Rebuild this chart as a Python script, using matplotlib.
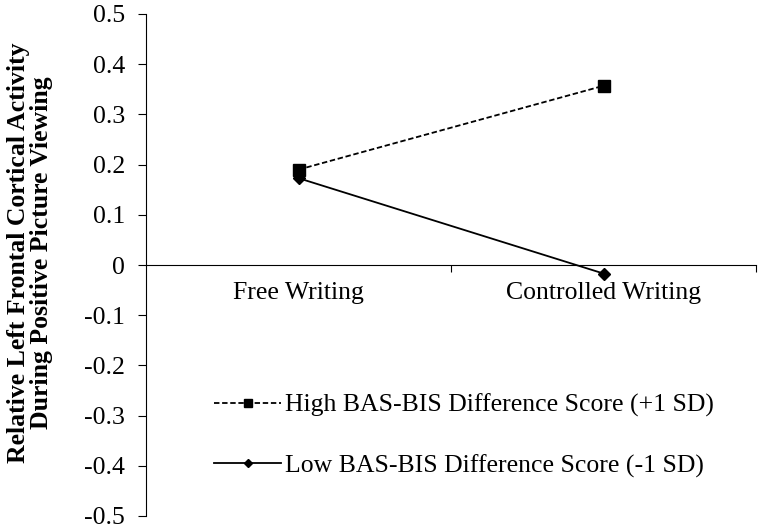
import matplotlib
matplotlib.use("Agg")
import matplotlib.pyplot as plt
from matplotlib.lines import Line2D

categories = ["Free Writing", "Controlled Writing"]
high_vals = [0.19, 0.357]
low_vals = [0.173, -0.017]
series_labels = ["High BAS-BIS Difference Score (+1 SD)",
                 "Low BAS-BIS Difference Score (-1 SD)"]
yticks = [0.5, 0.4, 0.3, 0.2, 0.1, 0, -0.1, -0.2, -0.3, -0.4, -0.5]
ytick_labels = ["0.5", "0.4", "0.3", "0.2", "0.1", "0", "-0.1", "-0.2", "-0.3", "-0.4", "-0.5"]
ylabel = "Relative Left Frontal Cortical Activity\nDuring Positive Picture Viewing"

plt.rcParams['font.family'] = ['Liberation Serif', 'DejaVu Serif']

fig = plt.figure(figsize=(7.6, 5.28), dpi=100)
ax = fig.add_axes([146/760, 12/528, 610/760, 502/528])

x = [0.5 + i for i in range(len(categories))]
ax.plot(x, high_vals, color='black', linestyle=(0, (3, 1.5)), linewidth=1.3,
        marker='s', markersize=8)
ax.plot(x, low_vals, color='black', linestyle='-', linewidth=1.3,
        marker='D', markersize=6)

ax.set_xlim(0, 2)
ax.set_ylim(-0.5, 0.5)
ax.set_yticks(yticks)
ax.set_yticklabels(ytick_labels)
ax.set_xticks(x)
ax.set_xticklabels(categories)
ax.set_xticks([1, 2], minor=True)
ax.tick_params(axis='x', which='major', length=0, pad=12, labelsize=18.5)
ax.tick_params(axis='x', which='minor', length=5, direction='out', width=0.8)
ax.tick_params(axis='y', length=6, direction='out', width=0.8, pad=9, labelsize=18.5)

ax.spines['bottom'].set_position(('data', 0))
ax.spines['top'].set_visible(False)
ax.spines['right'].set_visible(False)
for s in ['left', 'bottom']:
    ax.spines[s].set_linewidth(0.8)

fig.text(30/760, 1 - 253/528, ylabel, rotation=90, ha='center', va='center',
         fontsize=18.5, fontweight='bold', linespacing=1.0)

handles = [Line2D([], [], color='black', linestyle=(0, (3, 1.5)), linewidth=1.3,
                  marker='s', markersize=6),
           Line2D([], [], color='black', linestyle='-', linewidth=1.3,
                  marker='D', markersize=4)]
ax.legend(handles, series_labels, loc='lower left', bbox_to_anchor=(0.074, 0.03),
          frameon=False, fontsize=18.5, handlelength=2.6, handletextpad=0.15,
          labelspacing=1.45)

fig.savefig("out.png", dpi=100)
